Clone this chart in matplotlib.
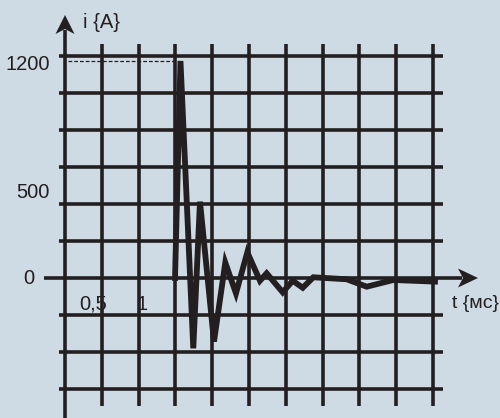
import matplotlib
matplotlib.use("Agg")
import matplotlib.pyplot as plt
from matplotlib.patches import Polygon

# ---- data (time in ms, current in A) ----
t_ms = [1.495, 1.569, 1.743, 1.834, 2.024, 2.178, 2.323, 2.477, 2.649, 2.740,
        2.958, 3.094, 3.230, 3.374, 3.827, 4.099, 4.461, 5.027]
i_A = [0, 1200, -389, 422, -352, 85, -85, 142, -15, 26,
       -79, -15, -54, 4, -7, -48, -11, -20]
x_tick_vals = [0.5, 1.0]
x_tick_labels = ["0,5", "1"]
y_tick_labels = ["1200", "500", "0"]
peak_value = 1200
grid_step_ms = 0.5

# ---- pixel mapping ----
PX_X0, PX_PER_MS = 65.0, 73.6
PY_Y0, A_PER_PX = 278.0, 1200.0 / 217.0
W, H = 500, 418

def X(px):
    return (px - PX_X0) / PX_PER_MS

def Y(py):
    return (PY_Y0 - py) * A_PER_PX

fam = ["Liberation Sans", "DejaVu Sans"]

BG = "#cfdbe4"
INK = "#231f20"

fig = plt.figure(figsize=(W / 100, H / 100), dpi=100, facecolor=BG)
ax = fig.add_axes([0, 0, 1, 1])
ax.set_facecolor(BG)
ax.set_xlim(X(0), X(W))
ax.set_ylim(Y(H), Y(0))
ax.axis("off")

gw = 2.6
# vertical grid lines
for k in range(1, 11):
    ax.plot([k * grid_step_ms] * 2, [Y(44), Y(406)], color=INK, lw=gw,
            solid_capstyle="butt", zorder=1)
# horizontal grid lines
gstep = 37 * A_PER_PX
for j in range(-3, 7):
    if j == 0:
        continue
    ax.plot([X(59), X(443)], [j * gstep] * 2, color=INK, lw=gw,
            solid_capstyle="butt", zorder=1)

# axes
ax.plot([X(44), X(462)], [0, 0], color=INK, lw=gw, solid_capstyle="butt", zorder=2)
ax.plot([0, 0], [Y(H + 2), Y(30)], color=INK, lw=gw, solid_capstyle="butt", zorder=2)
ax.add_patch(Polygon([(X(65), Y(15)), (X(74.5), Y(34)), (X(65), Y(29)), (X(55.5), Y(34))],
                     closed=True, color=INK, lw=0, zorder=3))
ax.add_patch(Polygon([(X(478), Y(278)), (X(458), Y(268.5)), (X(463), Y(278)), (X(458), Y(287.5))],
                     closed=True, color=INK, lw=0, zorder=3))

# dashed peak marker
ax.plot([X(68), t_ms[1]], [peak_value, peak_value], color=INK, lw=0.9,
        ls=(0, (3, 1.6)), zorder=2)

# curve
ax.plot(t_ms, i_A, color=INK, lw=4.2, solid_joinstyle="miter", zorder=4)

fs = 14.5
# y labels
ax.text(X(28), Y(64), y_tick_labels[0], fontsize=fs, family=fam, color=INK,
        ha="center", va="center")
ax.text(X(33), Y(192), y_tick_labels[1], fontsize=fs, family=fam, color=INK,
        ha="center", va="center")
ax.text(X(29), Y(278), y_tick_labels[2], fontsize=fs, family=fam, color=INK,
        ha="center", va="center")
# x labels (pixel offsets right of their grid line)
x_label_offsets_px = [5.5, 9.0]
for v, lab, off in zip(x_tick_vals, x_tick_labels, x_label_offsets_px):
    ax.text(v + off / PX_PER_MS, Y(304), lab, fontsize=fs, family=fam, color=INK,
            ha="right", va="center")
# axis titles
ax.text(X(83), Y(22), "i {A}", fontsize=fs, family=fam, color=INK,
        ha="left", va="center")
ax.text(X(452), Y(303), "t {мс}", fontsize=14, family=fam, color=INK,
        ha="left", va="center")

fig.savefig("out.png", dpi=100, facecolor=BG)
